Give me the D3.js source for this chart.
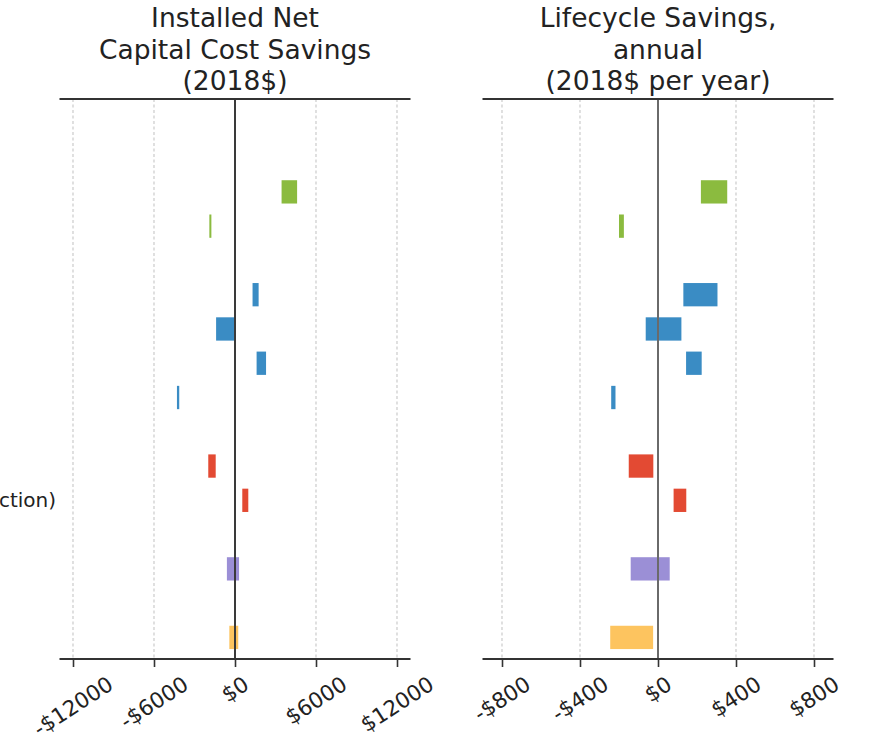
<!DOCTYPE html>
<html>
<head>
<meta charset="utf-8">
<script src="https://cdn.jsdelivr.net/npm/d3@7"></script>
<style>
  html, body { margin: 0; padding: 0; background: #fff; }
  svg { display: block; font-family: "DejaVu Sans", sans-serif; }
</style>
</head>
<body>
<svg id="chart" width="869" height="741"></svg>
<script>
// Row slots (gaps between groups are empty slots)
const rowSlots = [0, 1, 3, 4, 5, 6, 8, 9, 11, 13];
const rowColors = ["#8bbb3f", "#8bbb3f", "#3a8cc4", "#3a8cc4", "#3a8cc4", "#3a8cc4",
                   "#e34a33", "#e34a33", "#9b8fd6", "#fdc45f"];
const rowLabels = ["", "", "", "", "", "", "", "ction)", "", ""];

// Installed net capital cost savings, low / high (2018$)
const capitalLow  = [3450, -1900, 1300, -1400, 1600, -4300, -1980,  540, -600, -420];
const capitalHigh = [4600, -1750, 1750,    50, 2300, -4130, -1430,  985,  300,  240];

// Lifecycle savings, annual, low / high (2018$ per year)
const lifecycleLow  = [220, -200, 130, -63, 144, -240, -150,  80, -140, -245];
const lifecycleHigh = [355, -175, 305, 120, 224, -218,  -24, 145,   60,  -25];

const capitalTicks = [-12000, -6000, 0, 6000, 12000];
const lifecycleTicks = [-800, -400, 0, 400, 800];
const capitalTitle = ["Installed Net", "Capital Cost Savings", "(2018$)"];
const lifecycleTitle = ["Lifecycle Savings,", "annual", "(2018$ per year)"];

const svg = d3.select("#chart");

const y = d3.scaleLinear().domain([-2.71, 13.63]).range([99, 659]);
const barH = 0.68 * (y(1) - y(0));

const tickFont = 21.5;
const tickAngle = 33;

function fmt(v) {
  return (v < 0 ? "-$" : "$") + Math.abs(v);
}

function panel(opts) {
  const x = d3.scaleLinear().domain(opts.domain).range(opts.range);
  const g = svg.append("g");
  const [top, bottom] = y.range();

  // dashed vertical grid
  g.selectAll("line.grid").data(opts.ticks).join("line")
    .attr("class", "grid")
    .attr("x1", d => x(d)).attr("x2", d => x(d))
    .attr("y1", top).attr("y2", bottom)
    .attr("stroke", "#cfcfcf").attr("stroke-width", 1.3)
    .attr("stroke-dasharray", "3,2.5");

  // range bars
  g.selectAll("rect.bar").data(rowSlots).join("rect")
    .attr("class", "bar")
    .attr("x", (d, i) => x(Math.min(opts.low[i], opts.high[i])))
    .attr("width", (d, i) => Math.abs(x(opts.high[i]) - x(opts.low[i])))
    .attr("y", d => y(d) - barH / 2)
    .attr("height", barH)
    .attr("fill", (d, i) => rowColors[i]);

  // zero reference line
  g.append("line")
    .attr("x1", x(0)).attr("x2", x(0))
    .attr("y1", top).attr("y2", bottom)
    .attr("stroke", opts.zeroColor).attr("stroke-width", 2);

  // top and bottom spines
  [top, bottom].forEach(yy => {
    g.append("line")
      .attr("x1", opts.range[0]).attr("x2", opts.range[1])
      .attr("y1", yy).attr("y2", yy)
      .attr("stroke", "#333").attr("stroke-width", 1.8);
  });

  // bottom axis ticks
  const axis = d3.axisBottom(x).tickValues(opts.ticks).tickSize(8).tickFormat("");
  const ax = g.append("g").attr("transform", `translate(0,${bottom})`).call(axis);
  ax.select(".domain").remove();
  ax.selectAll(".tick line").attr("stroke", "#333").attr("stroke-width", 1.6);

  // rotated tick labels, centred on each tick, top edge aligned
  const labelTop = 674;
  const a = tickAngle * Math.PI / 180;
  opts.ticks.forEach(t => {
    const txt = g.append("text")
      .attr("text-anchor", "middle")
      .attr("dy", "0.35em")
      .attr("font-size", tickFont)
      .attr("fill", "#222")
      .text(fmt(t));
    const L = txt.node().getComputedTextLength();
    const h = 0.85 * tickFont;
    const bh = L * Math.sin(a) + h * Math.cos(a);
    txt.attr("transform", `translate(${x(t)},${labelTop + bh / 2}) rotate(${-tickAngle})`);
  });

  // title
  const cx = (opts.range[0] + opts.range[1]) / 2;
  g.selectAll("text.title").data(opts.title).join("text")
    .attr("class", "title")
    .attr("x", cx)
    .attr("y", (d, i) => 27 + i * 31.5)
    .attr("text-anchor", "middle")
    .attr("font-size", 26.5)
    .attr("fill", "#222")
    .text(d => d);

  return x;
}

panel({
  domain: [-13000, 13000], range: [59.5, 410.5],
  ticks: capitalTicks, low: capitalLow, high: capitalHigh,
  title: capitalTitle, zeroColor: "#3a3a3a"
});

panel({
  domain: [-900, 900], range: [482.5, 833.5],
  ticks: lifecycleTicks, low: lifecycleLow, high: lifecycleHigh,
  title: lifecycleTitle, zeroColor: "#6a6a6a"
});

// row labels, right-aligned at the left edge of the plotting area
svg.selectAll("text.rowlabel").data(rowSlots).join("text")
  .attr("class", "rowlabel")
  .attr("x", 56)
  .attr("y", d => y(d))
  .attr("dy", "0.35em")
  .attr("text-anchor", "end")
  .attr("font-size", 20)
  .attr("fill", "#222")
  .text((d, i) => rowLabels[i]);
</script>
</body>
</html>
